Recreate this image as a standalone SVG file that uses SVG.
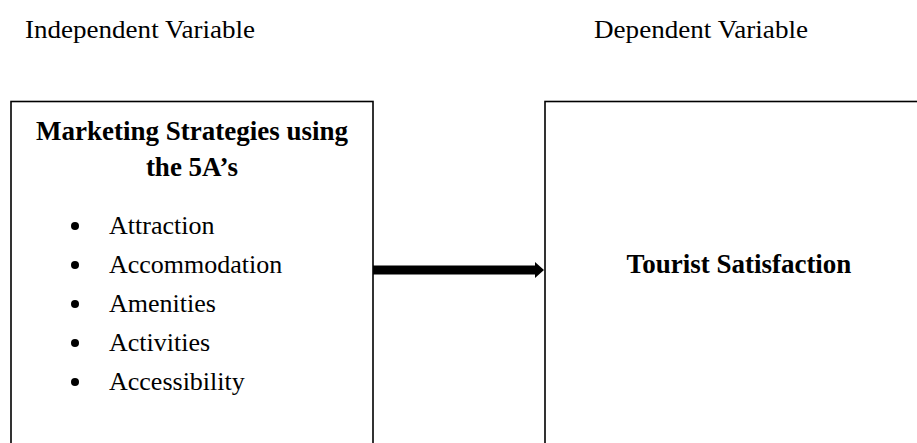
<svg xmlns="http://www.w3.org/2000/svg" width="917" height="443" viewBox="0 0 917 443">
<style>
.box{fill:#fff;stroke:#000;stroke-width:1.6}
.reg{font-family:"Liberation Serif","Times New Roman",serif;font-size:26px;fill:#000}
.bold{font-family:"Liberation Serif","Times New Roman",serif;font-size:27px;font-weight:bold;fill:#000}
</style>
<rect width="917" height="443" fill="#fff"/>
<g id="headers">
<text class="reg" x="25" y="38" textLength="230" lengthAdjust="spacingAndGlyphs">Independent Variable</text>
<text class="reg" x="594" y="38" textLength="214" lengthAdjust="spacingAndGlyphs">Dependent Variable</text>
</g>
<g id="independent">
<rect class="box" x="11" y="101.5" width="362" height="360"/>
<text class="bold" x="192" y="140" text-anchor="middle">Marketing Strategies using</text>
<text class="bold" x="192" y="176" text-anchor="middle">the 5A’s</text>
<g class="reg">
<circle cx="75" cy="226" r="4"/><text class="reg" x="109" y="234">Attraction</text>
<circle cx="75" cy="265" r="4"/><text class="reg" x="109" y="273">Accommodation</text>
<circle cx="75" cy="304" r="4"/><text class="reg" x="109" y="312">Amenities</text>
<circle cx="75" cy="343" r="4"/><text class="reg" x="109" y="351">Activities</text>
<circle cx="75" cy="382" r="4"/><text class="reg" x="109" y="390">Accessibility</text>
</g>
</g>
<g id="dependent">
<rect class="box" x="545" y="101.5" width="400" height="360"/>
<text class="bold" x="739" y="273" text-anchor="middle">Tourist Satisfaction</text>
</g>
<g id="connectors">
<rect x="373" y="265.5" width="163" height="9" fill="#000"/>
<polygon points="535,262 544,270 535,278" fill="#000"/>
</g>
</svg>
